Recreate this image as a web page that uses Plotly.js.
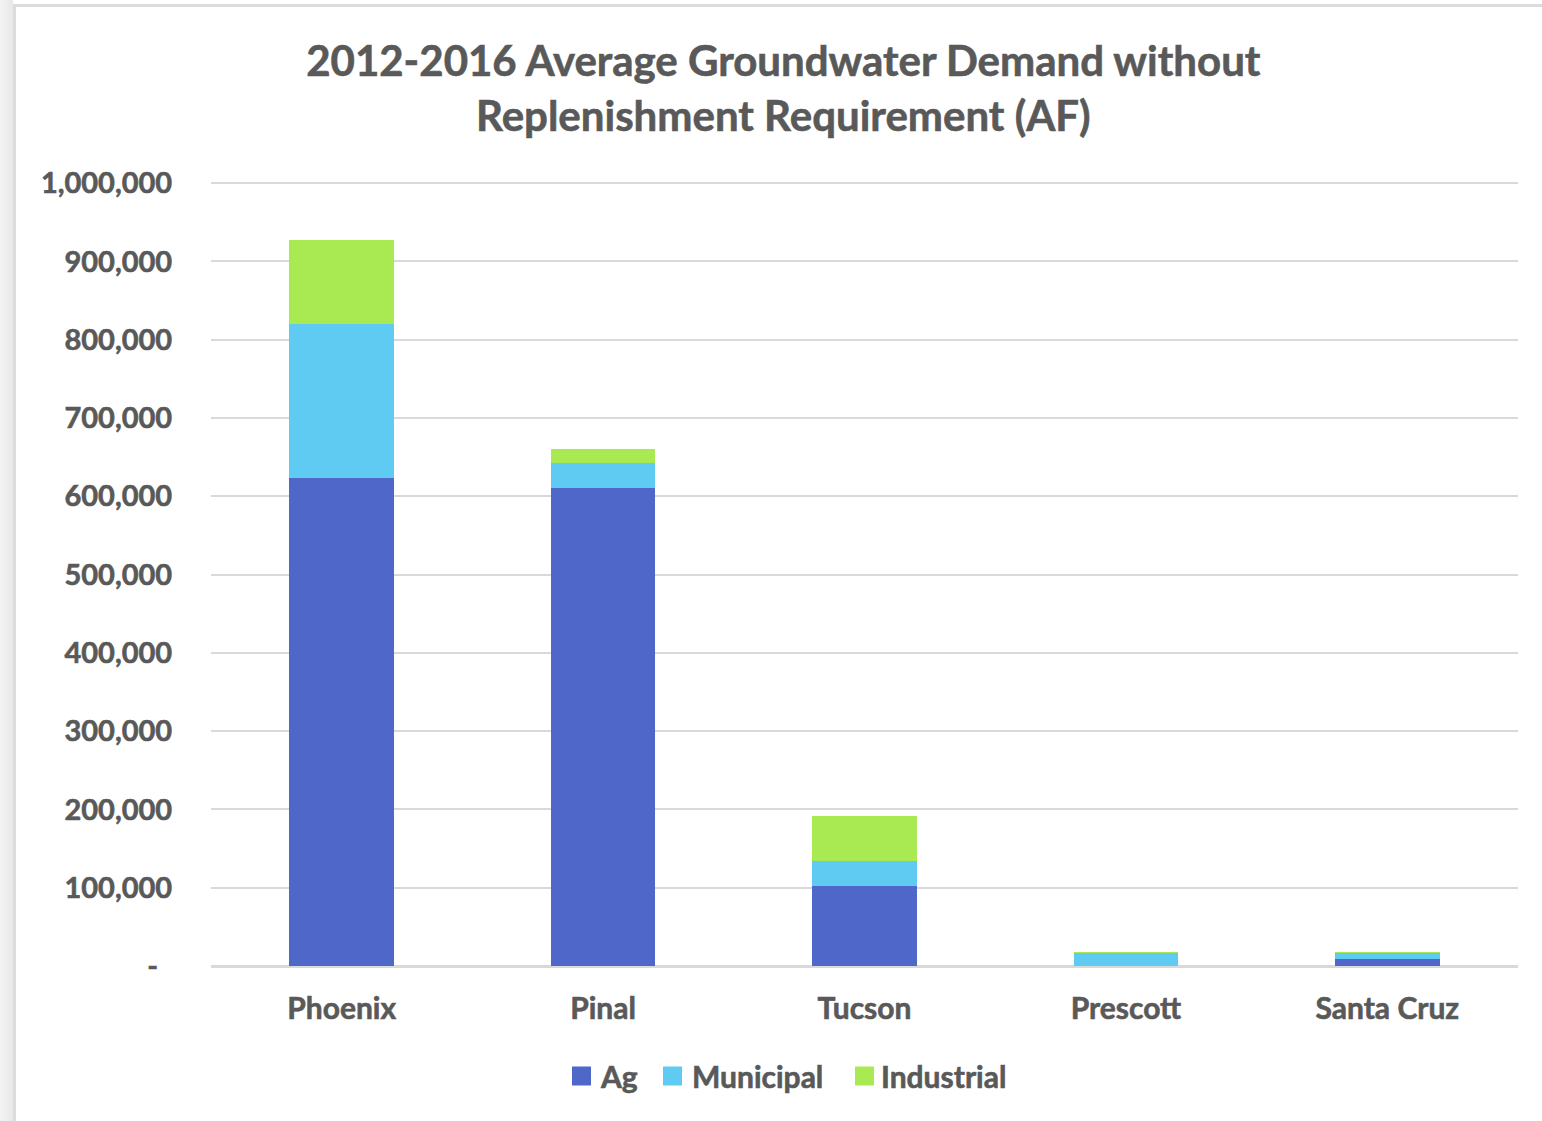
<!DOCTYPE html>
<html>
<head>
<meta charset="utf-8">
<script src="https://cdn.plot.ly/plotly-3.0.1.min.js"></script>
<style>
  html, body { margin: 0; padding: 0; background: #ffffff; }
  #wrap { position: relative; width: 1542px; height: 1121px; overflow: hidden; background: #fff; }
  #strip { position: absolute; left: 0; top: 0; width: 13px; height: 1121px; background: linear-gradient(to right, #f3f3f3, #e8e8e8); }
  #frameTop { position: absolute; left: 13px; top: 4px; width: 1529px; height: 3px; background: #dcdcdc; }
  #frameLeft { position: absolute; left: 13px; top: 4px; width: 3px; height: 1117px; background: #dcdcdc; }
  #chart { position: absolute; left: 0; top: 0; width: 1542px; height: 1121px; }
  #chart text { stroke: #595959; stroke-width: 0.6px; }
</style>
</head>
<body>
<div id="wrap">
  <div id="chart"></div>
  <div id="strip"></div>
  <div id="frameTop"></div>
  <div id="frameLeft"></div>
</div>
<script>
const categories = ["Phoenix", "Pinal", "Tucson", "Prescott", "Santa Cruz"];
const seriesNames = ["Ag", "Municipal", "Industrial"];
const agValues = [624000, 611000, 102000, 500, 9000];
const municipalValues = [196000, 31000, 32000, 15500, 7000];
const industrialValues = [107000, 19000, 57000, 1500, 1500];
const tickValues = [0, 100000, 200000, 300000, 400000, 500000, 600000, 700000, 800000, 900000, 1000000];
const tickLabels = ["-\u00a0\u00a0", "100,000", "200,000", "300,000", "400,000", "500,000", "600,000", "700,000", "800,000", "900,000", "1,000,000"];

const FONT = "Lato, 'Open Sans', sans-serif";
const GRAY = "#595959";
const COLORS = ["#4f67c8", "#5fcbf2", "#a9ea52"];

const W = 1542, H = 1121;
const M = { l: 211, r: 24, t: 182, b: 155 };
const PW = W - M.l - M.r, PH = H - M.t - M.b;
const px2x = p => (p - M.l) / PW;
const py2y = p => (H - M.b - p) / PH;

const valuesBySeries = [agValues, municipalValues, industrialValues];
const traces = seriesNames.map((name, i) => ({
  type: "bar", name: name, x: categories, y: valuesBySeries[i],
  marker: { color: COLORS[i] }, showlegend: false
}));

// custom legend (square swatches + labels) placed under the axis
const legendSwatchLeft = [572, 663, 855];
const legendTextLeft = [598, 690, 879];
const legendCenterY = 1076;
const swatch = 19;
const shapes = [];
const annotations = [];
seriesNames.forEach((name, i) => {
  shapes.push({
    type: "rect", xref: "paper", yref: "paper",
    x0: px2x(legendSwatchLeft[i]), x1: px2x(legendSwatchLeft[i] + swatch),
    y0: py2y(legendCenterY + swatch / 2), y1: py2y(legendCenterY - swatch / 2),
    fillcolor: COLORS[i], line: { width: 0 }
  });
  annotations.push({
    xref: "paper", yref: "paper", x: px2x(legendTextLeft[i]), y: py2y(legendCenterY),
    xanchor: "left", yanchor: "middle", showarrow: false, text: "<b>" + name + "</b>",
    font: { family: FONT, size: 30, color: GRAY }
  });
});

const layout = {
  width: W,
  height: H,
  barmode: "stack",
  bargap: 0.6,
  paper_bgcolor: "rgba(0,0,0,0)",
  plot_bgcolor: "rgba(0,0,0,0)",
  margin: M,
  font: { family: FONT, color: GRAY },
  title: {
    text: "<b>2012-2016 Average Groundwater Demand without<br>Replenishment Requirement (AF)</b>",
    x: 0.508, xanchor: "center",
    y: 1 - 76 / H, yanchor: "middle",
    font: { family: FONT, size: 42, color: GRAY }
  },
  xaxis: {
    type: "category",
    showgrid: false,
    showline: false,
    ticks: "outside",
    ticklen: 16,
    tickcolor: "rgba(0,0,0,0)",
    tickfont: { family: FONT, size: 30, color: GRAY, weight: "bold" }
  },
  yaxis: {
    range: [0, 1001500],
    tickmode: "array",
    tickvals: tickValues,
    ticktext: tickLabels,
    showgrid: true,
    gridcolor: "#d9d9d9",
    gridwidth: 2,
    zeroline: true,
    zerolinecolor: "#d9d9d9",
    zerolinewidth: 3,
    showline: false,
    ticks: "outside",
    ticklen: 32,
    tickcolor: "rgba(0,0,0,0)",
    tickfont: { family: FONT, size: 29, color: GRAY, weight: "bold" }
  },
  shapes: shapes,
  annotations: annotations,
  showlegend: false
};

Plotly.newPlot("chart", traces, layout, { displayModeBar: false, staticPlot: true });
</script>
</body>
</html>
